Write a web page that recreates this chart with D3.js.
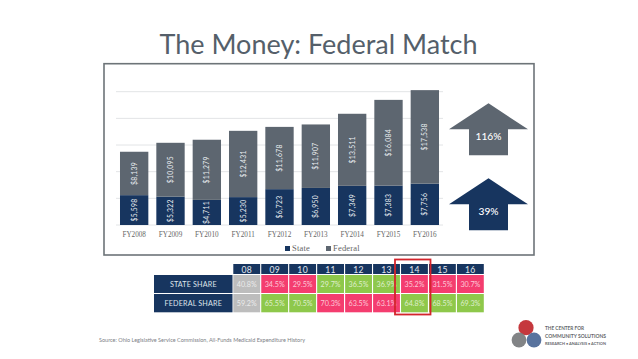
<!DOCTYPE html>
<html><head><meta charset="utf-8">
<script src="https://cdn.jsdelivr.net/npm/d3@7/dist/d3.min.js"></script>
<style>html,body{margin:0;padding:0;background:#fff}svg{display:block}</style>
</head><body><svg id="c" width="638" height="359"></svg>
<script>
const years=["FY2008","FY2009","FY2010","FY2011","FY2012","FY2013","FY2014","FY2015","FY2016"];
const stateValues=[5598,5322,4711,5230,6723,6950,7349,7383,7756];
const federalValues=[8139,10095,11279,12431,11678,11907,13511,16084,17538];
const yTicks=[0,5000,10000,15000,20000,25000];
const legendLabels=["State","Federal"];
const tableYears=["08","09","10","11","12","13","14","15","16"];
const stateShare=["40.8%","34.5%","29.5%","29.7%","36.5%","36.9%","35.2%","31.5%","30.7%"];
const federalShare=["59.2%","65.5%","70.5%","70.3%","63.5%","63.1%","64.8%","68.5%","69.3%"];
const stateTone=["n","r","r","g","g","g","r","r","r"];
const federalTone=["n","g","g","r","r","r","g","g","g"];
const rowNames=["STATE SHARE","FEDERAL SHARE"];
const arrowLabels=["116%","39%"];

const NAVY="#17355f",GREY="#5d6670",PINK="#f43d6f",GREEN="#8ec84b",NEUT="#bdbdbd";
const toneColor={n:NEUT,r:PINK,g:GREEN};
const svg=d3.select("#c");
const sans="Lato, 'Open Sans', sans-serif";
const serif="'Liberation Serif', serif";

svg.append("text").attr("x",318.5).attr("y",54).attr("text-anchor","middle")
  .attr("font-family",sans).attr("font-size",27).attr("fill","#555f6a").text("The Money: Federal Match");

svg.append("rect").attr("x",104).attr("y",63.7).attr("width",430).attr("height",191.3)
  .attr("fill","#fff").attr("stroke","#6d7478").attr("stroke-width",1.6);

const x=d3.scaleBand().domain(years).range([116,443]).paddingInner(0.22).paddingOuter(0.11);
const y=d3.scaleLinear().domain([0,25000]).range([225,91.7]);

const grid=svg.append("g");
grid.selectAll("line").data(yTicks).join("line")
  .attr("x1",116).attr("x2",443).attr("y1",d=>y(d)).attr("y2",d=>y(d))
  .attr("stroke","#e2e4e6").attr("stroke-width",1);

const xAxis=svg.append("g").attr("transform","translate(0,225)").call(d3.axisBottom(x).tickSize(0).tickPadding(7));
xAxis.select(".domain").remove();
xAxis.selectAll("text").attr("font-family",serif).attr("font-size",7.2).attr("font-weight",400).attr("fill","#666");

const bars=svg.append("g");
function label(g,cx,cy,t){
  g.append("text").attr("transform",`translate(${cx},${cy}) rotate(-90)`)
   .attr("text-anchor","middle").attr("dy","0.35em").attr("font-family",sans)
   .attr("font-size",6.8).attr("letter-spacing",0.3).attr("fill","#e9edf1").text(t);
}
const fmt=d3.format("$,");
years.forEach((yr,i)=>{
  const s=stateValues[i],f=federalValues[i];
  bars.append("rect").attr("x",x(yr)).attr("width",x.bandwidth()).attr("y",y(s)).attr("height",y(0)-y(s)).attr("fill",NAVY);
  bars.append("rect").attr("x",x(yr)).attr("width",x.bandwidth()).attr("y",y(s+f)).attr("height",y(s)-y(s+f)).attr("fill",GREY);
  label(bars,x(yr)+x.bandwidth()/2,y(s/2),fmt(s));
  label(bars,x(yr)+x.bandwidth()/2,y(s+f/2),fmt(f));
});

const legend=svg.append("g");
[[285,NAVY,0],[326,GREY,1]].forEach(([lx,c,i])=>{
  legend.append("rect").attr("x",lx).attr("y",246).attr("width",5).attr("height",5).attr("fill",c);
  legend.append("text").attr("x",lx+7).attr("y",251).attr("font-family",serif).attr("font-size",8.5)
    .attr("letter-spacing",0.2).attr("fill","#666").text(legendLabels[i]);
});

const arrow=d3.line();
function drawArrow(top,color,t){
  const cx=488.5,hw=39.5,sw=19.5,headH=26,h=52;
  svg.append("path").attr("d",arrow([[cx,top],[cx+hw,top+headH],[cx+sw,top+headH],[cx+sw,top+h],[cx-sw,top+h],[cx-sw,top+headH],[cx-hw,top+headH]])+"Z").attr("fill",color);
  svg.append("text").attr("x",cx).attr("y",top+36.3).attr("text-anchor","middle").attr("font-family",sans)
    .attr("font-weight",500).attr("font-size",10.2).attr("fill","#fff").text(t);
}
drawArrow(103.3,GREY,arrowLabels[0]);
drawArrow(178.3,NAVY,arrowLabels[1]);

const tableX=d3.scaleBand().domain(tableYears).range([233.3,483.8]).paddingInner(0.04).paddingOuter(0);
const tbl=svg.append("g");
const rows=[[275,18,stateShare,stateTone],[294,18.3,federalShare,federalTone]];
tableYears.forEach((yr,i)=>{
  const l=tableX(yr),w=tableX.bandwidth();
  tbl.append("rect").attr("x",l).attr("y",264).attr("width",w).attr("height",10).attr("fill",NAVY);
  tbl.append("text").attr("x",l+w/2).attr("y",272.6).attr("text-anchor","middle").attr("font-family",sans)
    .attr("font-size",8.6).attr("letter-spacing",0.3).attr("fill","#e3e8ee").text(yr);
  rows.forEach(([ry,rh,vals,tones])=>{
    tbl.append("rect").attr("x",l).attr("y",ry).attr("width",w).attr("height",rh).attr("fill",toneColor[tones[i]]);
    tbl.append("text").attr("x",l+w/2).attr("y",ry+rh/2).attr("dy","0.35em").attr("text-anchor","middle")
      .attr("font-family",sans).attr("font-size",7.2).attr("fill","#fff").attr("fill-opacity",0.72).text(vals[i]);
  });
});
rows.forEach(([ry,rh],i)=>{
  tbl.append("rect").attr("x",154).attr("y",ry).attr("width",78.5).attr("height",rh).attr("fill",NAVY);
  tbl.append("text").attr("x",193.3).attr("y",ry+rh/2).attr("dy","0.35em").attr("text-anchor","middle")
    .attr("font-family",sans).attr("font-size",7.2).attr("letter-spacing",0.15).attr("fill","#dfe4ea").text(rowNames[i]);
});
svg.append("rect").attr("x",395).attr("y",259.5).attr("width",35.5).attr("height",55)
  .attr("fill","none").attr("stroke","#d3242c").attr("stroke-width",1.8);

svg.append("text").attr("x",99).attr("y",342).attr("font-family",sans).attr("font-size",5.5)
  .attr("fill","#7c8086").text("Source: Ohio Legislative Service Commission, All-Funds Medicaid Expenditure History");

const logo=svg.append("g");
[[526,327.7,7.6,"#c0272d"],[519,340,7.4,"#77797c"],[534,340,7.4,"#4a6796"]].forEach(([cx,cy,r,c])=>{
  logo.append("circle").attr("cx",cx).attr("cy",cy).attr("r",r).attr("fill",c).attr("fill-opacity",0.92);
});
[["THE CENTER FOR",329.5,6,39],["COMMUNITY SOLUTIONS",338,6,61],["RESEARCH • ANALYSIS • ACTION",344.5,3.2,61]].forEach(([t,ty,fs,len])=>{
  logo.append("text").attr("x",545).attr("y",ty).attr("font-family",sans).attr("font-size",fs)
    .attr("textLength",len).attr("lengthAdjust","spacingAndGlyphs")
    .attr("font-weight",700).attr("fill","#66686c").text(t);
});
</script></body></html>
